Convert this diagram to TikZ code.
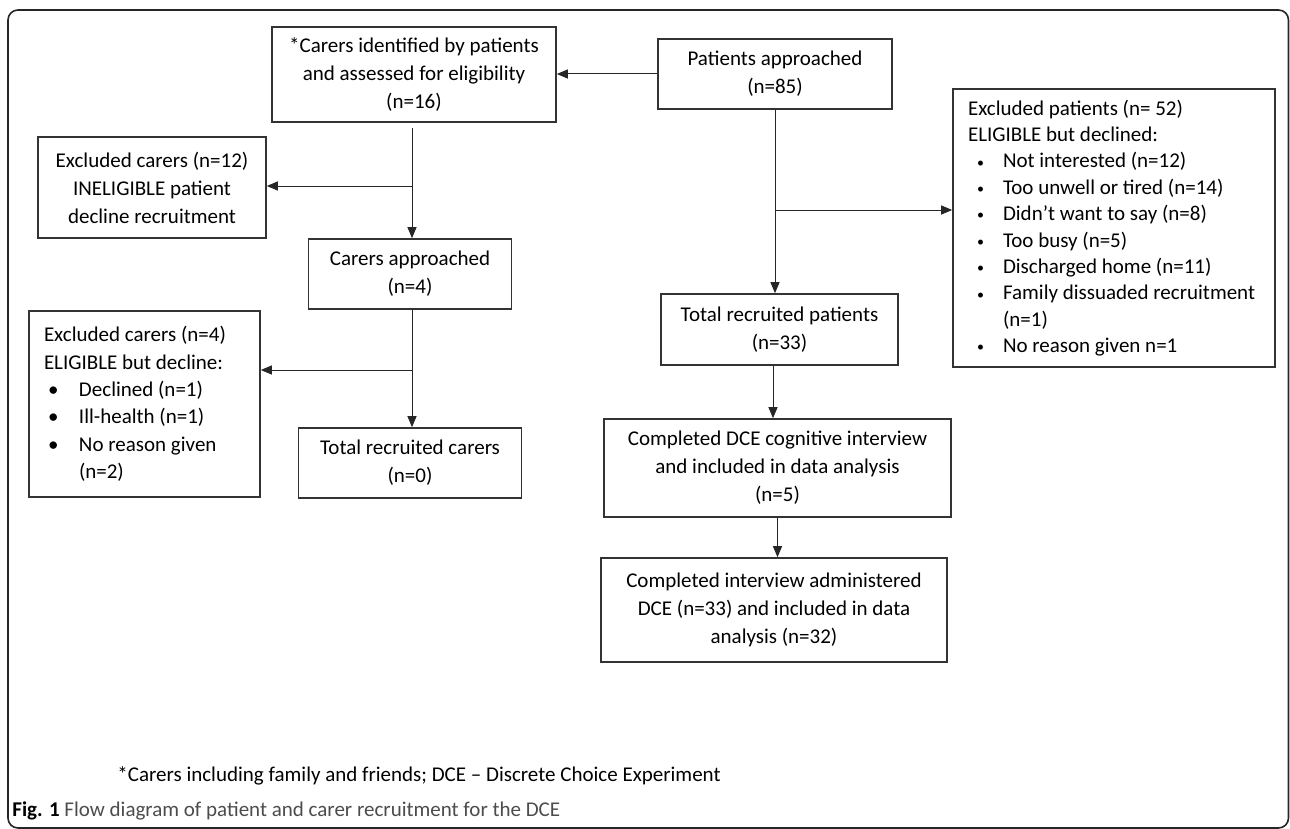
\documentclass[tikz,border=0pt]{standalone}
\usepackage{fontspec}
\setmainfont{Carlito}
\usetikzlibrary{arrows.meta,positioning}

\newcommand{\pitem}[1]{\hspace*{4.5pt}\makebox[13pt][l]{\raisebox{0.4pt}{\fontsize{7}{7}\selectfont\textbullet}}#1}
\newcommand{\citem}[1]{\hspace*{2pt}\makebox[15.5pt][l]{\textbullet}#1}
\newcommand{\hangon}{\hspace*{17.5pt}}

\begin{document}
\begin{tikzpicture}[x=0.5pt, y=-0.5pt,
    box/.style n args={2}{draw=black!80, line width=0.8pt, minimum width=#1, minimum height=#2, align=center, inner sep=0pt, font=\fontsize{10.5}{14}\selectfont},
    list/.style n args={3}{draw=black!80, line width=0.8pt, text width=#1, minimum height=#2, align=flush left, inner xsep=7.5pt, inner ysep=0pt, font=\fontsize{10.5}{#3}\selectfont},
    arr/.style={-{Triangle[length=5.5pt,width=4.5pt]}, line width=0.5pt, black!85}
]
\useasboundingbox (0,0) rectangle (1290,829);
\draw[black!85, line width=0.8pt, rounded corners=5pt] (8,10) rectangle (1288.5,828);

\node[box={142pt}{47.5pt}] (cid) at (414,74.5) {*Carers identified by patients\\and assessed for eligibility\\(n=16)};
\node[box={117pt}{35pt}] (pap) at (775,74) {Patients approached\\(n=85)};
\node[box={114pt}{50.5pt}] (exc12) at (152,187.5) {Excluded carers (n=12)\\INELIGIBLE patient\\decline recruitment};
\node[box={101.5pt}{35pt}] (capp) at (410,274) {Carers approached\\(n=4)};
\node[list={100.5pt}{93pt}{13.7}] (exc4) at (144.5,404) {Excluded carers (n=4)\\ELIGIBLE but decline:\\\citem{Declined (n=1)}\\\citem{Ill-health (n=1)}\\\citem{No reason given}\\\hangon(n=2)};
\node[box={111.5pt}{35pt}] (totcar) at (410,463) {Total recruited carers\\(n=0)};
\node[list={146pt}{139pt}{13.2}] (excpat) at (1114,228) {Excluded patients (n= 52)\\ELIGIBLE but declined:\\\pitem{Not interested (n=12)}\\\pitem{Too unwell or tired (n=14)}\\\pitem{Didn’t want to say (n=8)}\\\pitem{Too busy (n=5)}\\\pitem{Discharged home (n=11)}\\\pitem{Family dissuaded recruitment}\\\hangon(n=1)\\\pitem{No reason given n=1}};
\node[box={118.5pt}{35.5pt}] (totpat) at (779.5,329.5) {Total recruited patients\\(n=33)};
\node[box={173.5pt}{49pt}] (dcecog) at (777.5,468) {Completed DCE cognitive interview\\and included in data analysis\\(n=5)};
\node[box={173pt}{52pt}] (dceadm) at (774,610) {Completed interview administered\\DCE (n=33) and included in data\\analysis (n=32)};

\node[anchor=west, inner sep=0pt, font=\fontsize{10.5}{13}\selectfont] (note) at (117,776) {*Carers including family and friends; DCE – Discrete Choice Experiment};
\node[anchor=west, inner sep=0pt, font=\fontsize{10.5}{13}\selectfont] (cap) at (12,811) {\textbf{Fig. 1} \textcolor{black!70}{Flow diagram of patient and carer recruitment for the DCE}};

\coordinate (cc) at (412,0);
\coordinate (pc) at (775,0);
\coordinate (rc) at (773,0);
\coordinate (j1) at (412,186);
\coordinate (j2) at (412,370);
\coordinate (j3) at (775,210);

\draw[arr] (pap.west) -- (pap.west -| cid.east);
\draw[arr, shorten <=2.5pt] (cid.south -| cc) -- (capp.north -| cc);
\draw[arr] (j1) -- (j1 -| exc12.east);
\draw[arr] (capp.south -| cc) -- (totcar.north -| cc);
\draw[arr] (j2) -- (j2 -| exc4.east);
\draw[arr] (pap.south -| pc) -- (totpat.north -| pc);
\draw[arr] (j3) -- (j3 -| excpat.west);
\draw[arr] (totpat.south -| rc) -- (dcecog.north -| rc);
\draw[arr] (dcecog.south) -- (dcecog.south |- dceadm.north);
\end{tikzpicture}
\end{document}
